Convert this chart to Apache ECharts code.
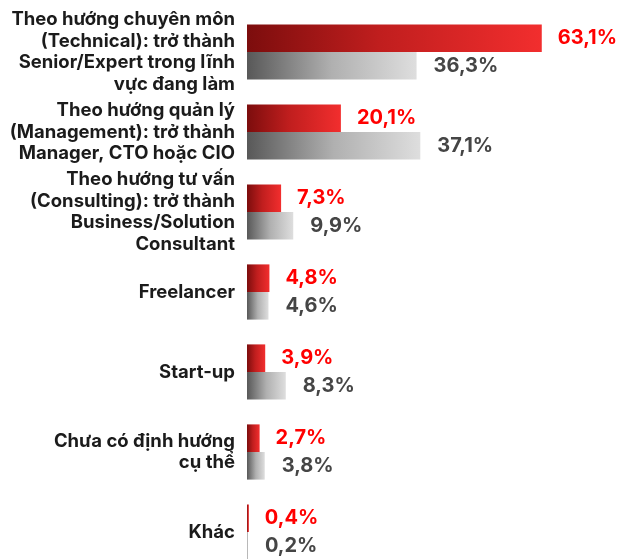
<!DOCTYPE html>
<html>
<head>
<meta charset="utf-8">
<script src="https://cdn.jsdelivr.net/npm/echarts@6/dist/echarts.min.js"></script>
<style>
  html, body { margin: 0; padding: 0; background: #fff; overflow: hidden; }
  #chart { width: 619px; height: 580px; }
</style>
</head>
<body>
<div id="chart"></div>
<script>
// Career directions (top to bottom)
const categories = [
  'Theo hướng chuyên môn\n(Technical): trở thành\nSenior/Expert trong lĩnh\nvực đang làm',
  'Theo hướng quản lý\n(Management): trở thành\nManager, CTO hoặc CIO',
  'Theo hướng tư vấn\n(Consulting): trở thành\nBusiness/Solution\nConsultant',
  'Freelancer',
  'Start-up',
  'Chưa có định hướng\ncụ thể',
  'Khác'
];
// Percent shares for the two groups
const redValues  = [63.1, 20.1, 7.3, 4.8, 3.9, 2.7, 0.4];
const grayValues = [36.3, 37.1, 9.9, 4.6, 8.3, 3.8, 0.2];

const FONT = 'Inter, "Noto Sans", sans-serif';
const fmt = v => v.toFixed(1).replace('.', ',') + '%';

const chart = echarts.init(document.getElementById('chart'));
chart.setOption({
  animation: false,
  backgroundColor: '#ffffff',
  grid: { left: 247, top: 12, width: 327, height: 560 },
  xAxis: {
    type: 'value', min: 0, max: 70,
    show: false
  },
  yAxis: {
    type: 'category',
    data: categories,
    inverse: true,
    axisLine: { show: false },
    axisTick: { show: false },
    axisLabel: {
      margin: 12,
      fontFamily: FONT,
      fontSize: 18.5,
      fontWeight: 'bold',
      lineHeight: 21.5,
      color: '#1b1b1b'
    }
  },
  series: [
    {
      type: 'bar',
      data: redValues,
      barGap: '0%',
      barCategoryGap: '31%',
      itemStyle: {
        color: new echarts.graphic.LinearGradient(0, 0, 1, 0, [
          { offset: 0, color: '#7c0d0d' },
          { offset: 0.45, color: '#c01e1e' },
          { offset: 1, color: '#f22e2e' }
        ])
      },
      label: {
        show: true, position: 'right', distance: 16,
        formatter: p => fmt(p.value),
        fontFamily: FONT, fontSize: 20, fontWeight: 'bold', color: '#ff0000'
      }
    },
    {
      type: 'bar',
      data: grayValues,
      barGap: '0%',
      barCategoryGap: '31%',
      itemStyle: {
        color: new echarts.graphic.LinearGradient(0, 0, 1, 0, [
          { offset: 0, color: '#585858' },
          { offset: 0.5, color: '#b0b0b0' },
          { offset: 1, color: '#dedede' }
        ])
      },
      label: {
        show: true, position: 'right', distance: 17,
        formatter: p => fmt(p.value),
        fontFamily: FONT, fontSize: 20, fontWeight: 'bold', color: '#454545'
      }
    }
  ]
});
</script>
</body>
</html>
